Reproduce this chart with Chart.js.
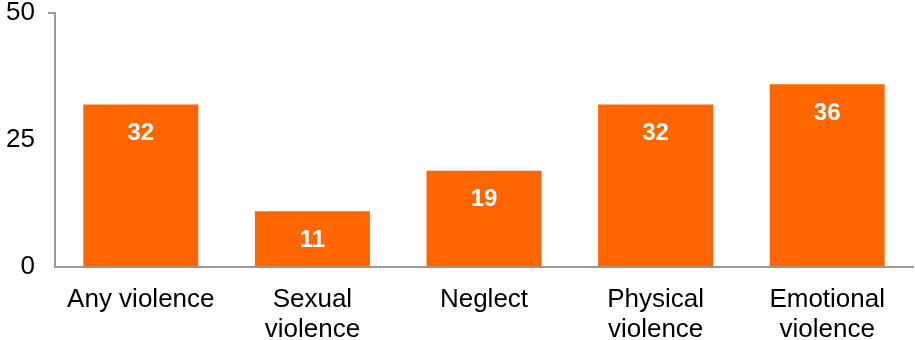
<!DOCTYPE html>
<html>
<head>
<meta charset="utf-8">
<script src="https://cdn.jsdelivr.net/npm/chart.js@4"></script>
<style>
    html, body { margin: 0; padding: 0; background: #fff; }
    #wrap { width: 915px; height: 340px; }
</style>
</head>
<body>
<div id="wrap"><canvas id="violenceChart"></canvas></div>
<script>
const categories = [['Any violence'], ['Sexual', 'violence'], ['Neglect'], ['Physical', 'violence'], ['Emotional', 'violence']];
const values = [32, 11, 19, 32, 36];
const yTicks = [0, 25, 50];

// white value labels inside the top of each bar
const barLabels = {
    id: 'barLabels',
    afterDatasetsDraw(chart) {
        const ctx = chart.ctx;
        const meta = chart.getDatasetMeta(0);
        ctx.save();
        ctx.fillStyle = '#ffffff';
        ctx.font = 'bold 24px "Liberation Sans", Arial, sans-serif';
        ctx.textAlign = 'center';
        ctx.textBaseline = 'middle';
        meta.data.forEach((bar, i) => {
            ctx.fillText(values[i], bar.x, bar.y + 29);
        });
        ctx.restore();
    }
};

new Chart(document.getElementById('violenceChart').getContext('2d'), {
    type: 'bar',
    data: {
        labels: categories,
        datasets: [{
            data: values,
            backgroundColor: '#ff6600',
            categoryPercentage: 1,
            barPercentage: 0.67
        }]
    },
    options: {
        responsive: true,
        maintainAspectRatio: false,
        animation: false,
        layout: { padding: { top: 0, right: 2, bottom: -23 } },
        plugins: { legend: { display: false }, tooltip: { enabled: false } },
        scales: {
            x: {
                grid: { display: false, drawTicks: false },
                border: { color: '#999999', width: 2 },
                ticks: {
                    color: '#000',
                    padding: 18,
                    font: { family: '"Liberation Sans", Arial, sans-serif', size: 26, lineHeight: 1.15 },
                    maxRotation: 0,
                    autoSkip: false
                }
            },
            y: {
                min: 0,
                max: 50,
                afterBuildTicks: scale => { scale.ticks = yTicks.map(v => ({ value: v })); },
                afterFit: scale => { scale.width = 55; },
                grid: {
                    drawOnChartArea: false,
                    tickLength: 7,
                    color: c => (c.tick && c.tick.value === 50) ? '#999999' : 'rgba(0,0,0,0)',
                    lineWidth: 2
                },
                border: { color: '#999999', width: 2 },
                ticks: {
                    color: '#000',
                    padding: 13,
                    // tiny line height keeps the top/bottom label padding small
                    font: { family: '"Liberation Sans", Arial, sans-serif', size: 26, lineHeight: 0.01 }
                }
            }
        }
    },
    plugins: [barLabels]
});
</script>
</body>
</html>
